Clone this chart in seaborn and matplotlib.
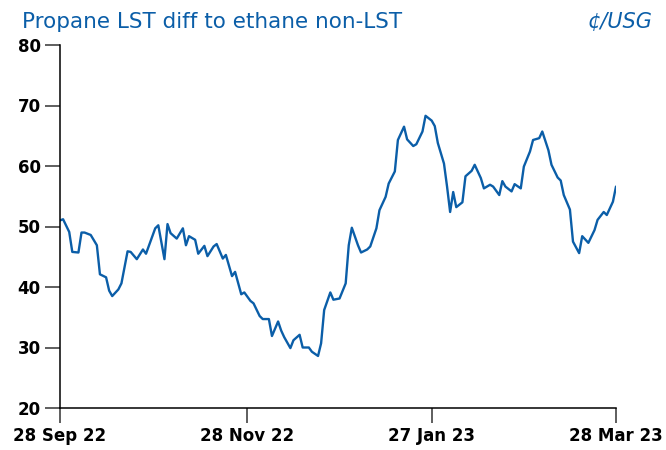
import pandas as pd
import matplotlib
matplotlib.use("Agg")
import matplotlib.pyplot as plt
import matplotlib.dates as mdates
import seaborn as sns

# values
dates = [
    "2022-09-28", "2022-09-29", "2022-10-01", "2022-10-02", "2022-10-04", "2022-10-05",
    "2022-10-06", "2022-10-08", "2022-10-10", "2022-10-11", "2022-10-13", "2022-10-14",
    "2022-10-15", "2022-10-17", "2022-10-18", "2022-10-20", "2022-10-21", "2022-10-23",
    "2022-10-25", "2022-10-26", "2022-10-27", "2022-10-29", "2022-10-30", "2022-11-01",
    "2022-11-02", "2022-11-03", "2022-11-05", "2022-11-07", "2022-11-08", "2022-11-09",
    "2022-11-11", "2022-11-12", "2022-11-14", "2022-11-15", "2022-11-17", "2022-11-18",
    "2022-11-20", "2022-11-21", "2022-11-23", "2022-11-24", "2022-11-26", "2022-11-27",
    "2022-11-29", "2022-11-30", "2022-12-02", "2022-12-03", "2022-12-05", "2022-12-06",
    "2022-12-08", "2022-12-09", "2022-12-10", "2022-12-12", "2022-12-13", "2022-12-15",
    "2022-12-16", "2022-12-18", "2022-12-19", "2022-12-21", "2022-12-22", "2022-12-23",
    "2022-12-25", "2022-12-26", "2022-12-28", "2022-12-30", "2022-12-31", "2023-01-01",
    "2023-01-03", "2023-01-04", "2023-01-06", "2023-01-07", "2023-01-09", "2023-01-10",
    "2023-01-12", "2023-01-13", "2023-01-15", "2023-01-16", "2023-01-18", "2023-01-19",
    "2023-01-21", "2023-01-22", "2023-01-24", "2023-01-25", "2023-01-27", "2023-01-28",
    "2023-01-29", "2023-01-31", "2023-02-01", "2023-02-02", "2023-02-03", "2023-02-04",
    "2023-02-06", "2023-02-07", "2023-02-09", "2023-02-10", "2023-02-12", "2023-02-13",
    "2023-02-15", "2023-02-16", "2023-02-18", "2023-02-19", "2023-02-20", "2023-02-22",
    "2023-02-23", "2023-02-25", "2023-02-26", "2023-02-28", "2023-03-01", "2023-03-03",
    "2023-03-04", "2023-03-06", "2023-03-07", "2023-03-09", "2023-03-10", "2023-03-11",
    "2023-03-13", "2023-03-14", "2023-03-16", "2023-03-17", "2023-03-19", "2023-03-21",
    "2023-03-22", "2023-03-24", "2023-03-25", "2023-03-27", "2023-03-28",
]
diff = [
    51.0, 51.2, 49.1, 45.8, 45.7, 49.0,
    49.0, 48.6, 46.9, 42.1, 41.6, 39.4,
    38.5, 39.6, 40.6, 45.9, 45.8, 44.6,
    46.2, 45.5, 46.9, 49.7, 50.2, 44.6,
    50.4, 48.9, 48.0, 49.7, 46.9, 48.4,
    47.8, 45.5, 46.8, 45.1, 46.7, 47.1,
    44.7, 45.3, 41.8, 42.5, 38.8, 39.1,
    37.7, 37.3, 35.2, 34.7, 34.7, 31.9,
    34.3, 32.8, 31.7, 29.9, 31.2, 32.1,
    30.0, 30.0, 29.3, 28.6, 30.7, 36.2,
    39.1, 37.9, 38.1, 40.6, 46.9, 49.8,
    46.9, 45.7, 46.2, 46.7, 49.7, 52.7,
    54.9, 57.1, 59.1, 64.3, 66.5, 64.4,
    63.3, 63.6, 65.7, 68.3, 67.5, 66.6,
    63.8, 60.4, 56.6, 52.4, 55.7, 53.2,
    54.0, 58.3, 59.2, 60.2, 58.0, 56.3,
    56.9, 56.6, 55.2, 57.5, 56.6, 55.8,
    57.0, 56.3, 59.9, 62.4, 64.3, 64.6,
    65.7, 62.6, 60.2, 58.1, 57.6, 55.2,
    52.8, 47.5, 45.6, 48.4, 47.3, 49.4,
    51.1, 52.4, 51.9, 54.1, 56.6,
]
tick_dates = ["2022-09-28", "2022-11-28", "2023-01-27", "2023-03-28"]
y_ticks = [20, 30, 40, 50, 60, 70, 80]

df = pd.DataFrame({"date": pd.to_datetime(dates), "diff": diff})

sns.set_style("ticks")
plt.rcParams["font.family"] = ["DejaVu Sans"]

blue = "#0b5ea8"
fig = plt.figure(figsize=(6.66, 4.5), dpi=100)
ax = fig.add_axes([60 / 666, 1 - 408 / 450, 556 / 666, 363 / 450])

sns.lineplot(data=df, x="date", y="diff", color=blue, linewidth=1.7, ax=ax)

ax.set_xlim(pd.Timestamp("2022-09-28"), pd.Timestamp("2023-03-28"))
ax.set_ylim(20, 80)
ax.set_yticks(y_ticks)
ax.set_xticks(pd.to_datetime(tick_dates))
ax.xaxis.set_major_formatter(mdates.DateFormatter("%d %b %y"))
ax.set_xlabel("")
ax.set_ylabel("")

for s in ["top", "right"]:
    ax.spines[s].set_visible(False)
for s in ["left", "bottom"]:
    ax.spines[s].set_color("black")
    ax.spines[s].set_linewidth(1.1)

ax.tick_params(axis="both", length=11, width=1.1, color="#333333",
               labelsize=12, labelcolor="black", pad=3)
for lbl in ax.get_xticklabels() + ax.get_yticklabels():
    lbl.set_fontweight("bold")

fig.text(22 / 666, 1 - 22 / 450, "Propane LST diff to ethane non-LST",
         color=blue, fontsize=15.5, va="center", ha="left")
fig.text(652 / 666, 1 - 22 / 450, "¢/USG", color=blue, fontsize=15,
         style="italic", va="center", ha="right")

fig.savefig("out.png", dpi=100)
plt.close(fig)
